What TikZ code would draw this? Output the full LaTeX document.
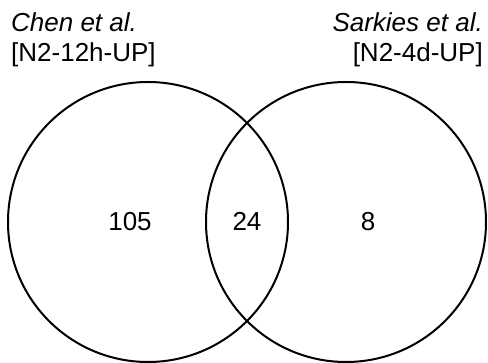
\documentclass[tikz,border=0pt]{standalone}
\usepackage{fontspec}
\setmainfont{Liberation Sans}
\begin{document}
\begin{tikzpicture}[x=1pt,y=-1pt,
  setcircle/.style={draw=black,line width=2pt},
  lbl/.style={inner sep=0pt,font=\fontsize{26}{31}\selectfont},
  count/.style={inner sep=0pt,anchor=base,font=\fontsize{26}{31}\selectfont}]
\useasboundingbox[fill=white] (0,0) rectangle (488,363);
\node[setcircle,circle,minimum size=280pt,inner sep=0pt] (chen) at (148,222) {};
\node[setcircle,circle,minimum size=280pt,inner sep=0pt] (sark) at (346,222) {};
\node[lbl,anchor=base west] (t1) at (11,32) {\itshape Chen et al.};
\node[lbl,anchor=base west] (t2) at (11,62) {[N2-12h-UP]};
\node[lbl,anchor=base east] (t3) at (483,32) {\itshape Sarkies et al.};
\node[lbl,anchor=base east] (t4) at (483,62) {[N2-4d-UP]};
\node[count] (n1) at (130,231) {105};
\node[count] (n2) at (247,231) {24};
\node[count] (n3) at (368,231) {8};
\end{tikzpicture}
\end{document}
